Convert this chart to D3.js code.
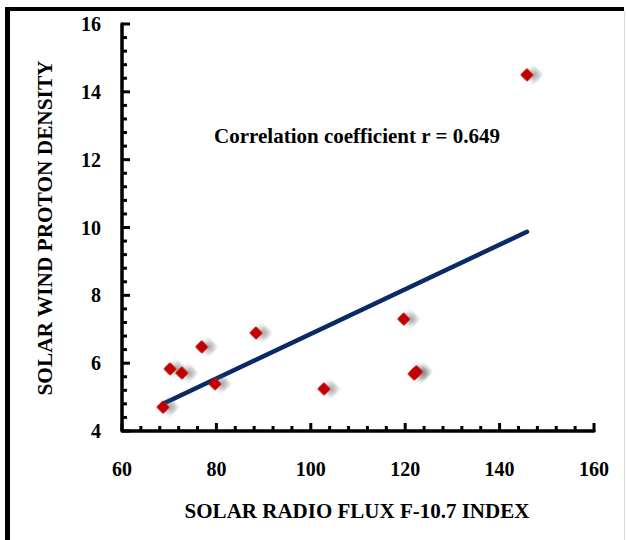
<!DOCTYPE html>
<html><head><meta charset="utf-8">
<script src="https://cdn.jsdelivr.net/npm/d3@7"></script>
<style>body{margin:0;background:#fff}svg{display:block}</style>
</head><body>
<script>
const fluxValues = [68.7, 70.2, 72.7, 76.9, 79.7, 88.4, 102.8, 119.7, 121.9, 122.4, 145.8];
const densityValues = [4.7, 5.83, 5.71, 6.48, 5.39, 6.89, 5.24, 7.30, 5.68, 5.75, 14.5];
const xTicks = [60, 80, 100, 120, 140, 160];
const yTicks = [4, 6, 8, 10, 12, 14, 16];
const annotation = "Correlation coefficient r = 0.649";
const xTitle = "SOLAR RADIO FLUX F-10.7 INDEX";
const yTitle = "SOLAR WIND PROTON DENSITY";

const W = 626, H = 540;
const svg = d3.select("body").append("svg").attr("width", W).attr("height", H);
const font = "'Liberation Serif','Times New Roman',serif";

const defs = svg.append("defs");
const f = defs.append("filter").attr("id","sh").attr("x","-100%").attr("y","-100%").attr("width","300%").attr("height","300%");
f.append("feDropShadow").attr("dx",5).attr("dy",-5).attr("stdDeviation",3).attr("flood-color","#666").attr("flood-opacity",0.7);

// frame
svg.append("rect").attr("x",0).attr("y",0).attr("width",W).attr("height",H).attr("fill","#fff");
svg.append("line").attr("x1",7.5).attr("x2",7.5).attr("y1",7).attr("y2",H).attr("stroke","#000").attr("stroke-width",5);
svg.append("line").attr("x1",5).attr("x2",624).attr("y1",9).attr("y2",9).attr("stroke","#000").attr("stroke-width",4);
svg.append("line").attr("x1",624.5).attr("x2",624.5).attr("y1",11).attr("y2",H).attr("stroke","#ddd").attr("stroke-width",1);

const x = d3.scaleLinear().domain([60,160]).range([122,594]);
const y = d3.scaleLinear().domain([4,16]).range([431,24]);

const isMajorX = d => Math.abs(d/20 - Math.round(d/20)) < 1e-6;
const isMajorY = d => Math.abs(d/2 - Math.round(d/2)) < 1e-6;
const xMinor = d3.range(60,160.01,4);
const yMinor = d3.range(4,16.01,0.4);
const g = svg.append("g");
g.selectAll(".xm").data(xMinor).join("line")
  .attr("x1",d=>x(d)).attr("x2",d=>x(d)).attr("y1",431).attr("y2",d=>isMajorX(d)?423:426)
  .attr("stroke","#000").attr("stroke-width",3);
g.selectAll(".ym").data(yMinor).join("line")
  .attr("y1",d=>y(d)).attr("y2",d=>y(d)).attr("x1",122).attr("x2",d=>isMajorY(d)?130:127)
  .attr("stroke","#000").attr("stroke-width",3);

g.append("path").attr("d",`M${x(60)},${y(16)}L${x(60)},${y(4)}L${x(160)},${y(4)}`)
  .attr("fill","none").attr("stroke","#000").attr("stroke-width",3.5).attr("stroke-linejoin","round").attr("stroke-linecap","round");

// tick labels
svg.selectAll(".xl").data(xTicks).join("text")
  .attr("x",d=>x(d)).attr("y",476).attr("text-anchor","middle")
  .attr("font-family",font).attr("font-weight","bold").attr("font-size",20).text(d=>d);
svg.selectAll(".yl").data(yTicks).join("text")
  .attr("x",101).attr("y",d=>y(d)+7).attr("text-anchor","end")
  .attr("font-family",font).attr("font-weight","bold").attr("font-size",20).text(d=>d);

// regression
const n = fluxValues.length;
const mx = d3.mean(fluxValues), my = d3.mean(densityValues);
let sxy=0,sxx=0;
for(let i=0;i<n;i++){sxy+=(fluxValues[i]-mx)*(densityValues[i]-my);sxx+=(fluxValues[i]-mx)**2;}
const b = sxy/sxx, a = my - b*mx;
const x0 = d3.min(fluxValues), x1 = d3.max(fluxValues);
svg.append("line").attr("x1",x(x0)).attr("y1",y(a+b*x0)).attr("x2",x(x1)).attr("y2",y(a+b*x1))
  .attr("stroke","#0a2a66").attr("stroke-width",4.5).attr("stroke-linecap","round");

// points
const sym = d3.symbol().type(d3.symbolSquare).size(60);
svg.selectAll(".pt").data(fluxValues.map((v,i)=>[v,densityValues[i]])).join("path")
  .attr("d",sym).attr("transform",d=>`translate(${x(d[0])},${y(d[1])}) rotate(45)`)
  .attr("fill","#c00000").attr("stroke","#c00000").attr("stroke-width",2).attr("stroke-linejoin","round")
  .attr("filter","url(#sh)");

// annotation
svg.append("text").attr("x",357).attr("y",143).attr("text-anchor","middle")
  .attr("font-family",font).attr("font-weight","bold").attr("font-size",21).text(annotation);

// titles
svg.append("text").attr("x",357).attr("y",518).attr("text-anchor","middle")
  .attr("font-family",font).attr("font-weight","bold").attr("font-size",21).text(xTitle);
svg.append("text").attr("transform","translate(52,228) rotate(-90)").attr("text-anchor","middle")
  .attr("font-family",font).attr("font-weight","bold").attr("font-size",21)
  .attr("textLength",335).attr("lengthAdjust","spacingAndGlyphs").text(yTitle);
</script>
</body></html>
